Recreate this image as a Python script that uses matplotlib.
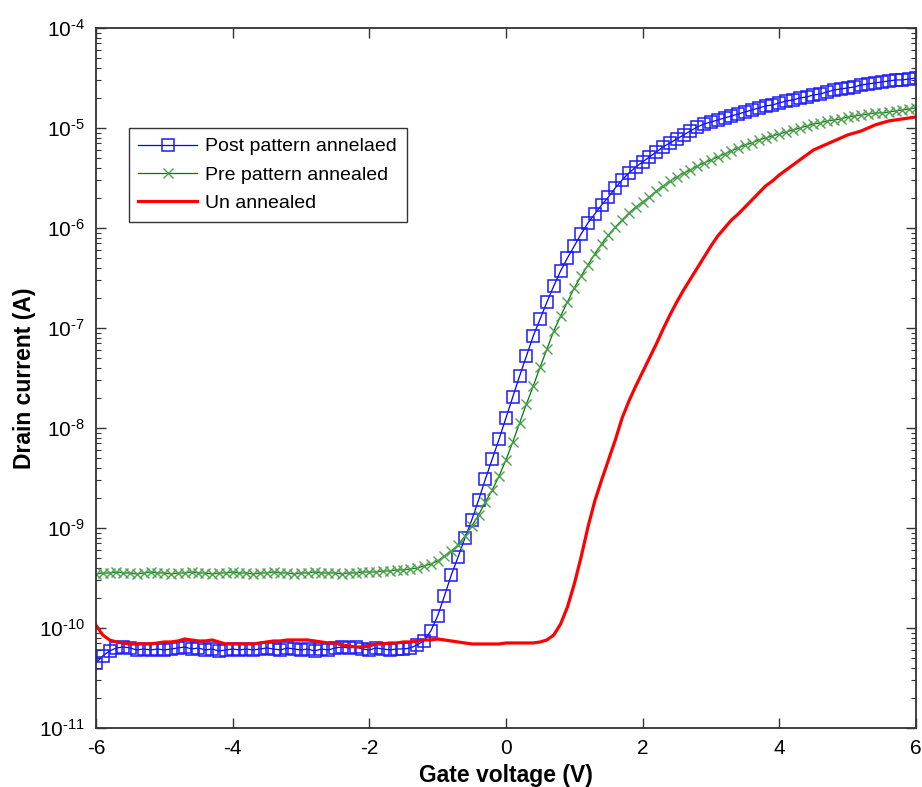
import numpy as np
import matplotlib
matplotlib.use("Agg")
import matplotlib.pyplot as plt
from matplotlib.ticker import LogLocator, FixedLocator, FuncFormatter

plt.rcParams['font.family'] = ['Liberation Sans', 'DejaVu Sans']
plt.rcParams['mathtext.fontset'] = 'custom'
plt.rcParams['mathtext.rm'] = 'Liberation Sans'
plt.rcParams['mathtext.it'] = 'Liberation Sans:italic'
plt.rcParams['mathtext.bf'] = 'Liberation Sans:bold'
plt.rcParams['axes.unicode_minus'] = False

# Gate voltage sweep: -6 V to 6 V in 0.1 V steps (121 points)
gate_voltage = np.linspace(-6.0, 6.0, 121)

# log10 of drain current (A), one row per volt
post_pattern_log = [
    -10.35, -10.28, -10.23, -10.20, -10.19, -10.20, -10.22, -10.21, -10.22, -10.21,
    -10.22, -10.21, -10.20, -10.19, -10.21, -10.20, -10.22, -10.21, -10.23, -10.22,
    -10.21, -10.22, -10.21, -10.22, -10.21, -10.20, -10.21, -10.22, -10.20, -10.21,
    -10.22, -10.21, -10.23, -10.21, -10.22, -10.20, -10.19, -10.20, -10.19, -10.21,
    -10.22, -10.20, -10.21, -10.22, -10.21, -10.21, -10.20, -10.17, -10.13, -10.03,
    -9.88, -9.68, -9.47, -9.29, -9.10, -8.92, -8.72, -8.51, -8.31, -8.11,
    -7.90, -7.69, -7.48, -7.28, -7.08, -6.91, -6.74, -6.58, -6.43, -6.30,
    -6.18, -6.06, -5.95, -5.86, -5.77, -5.69, -5.60, -5.52, -5.45, -5.39,
    -5.34, -5.29, -5.24, -5.19, -5.15, -5.11, -5.07, -5.03, -4.99, -4.96,
    -4.94, -4.92, -4.90, -4.88, -4.86, -4.84, -4.82, -4.80, -4.78, -4.77,
    -4.75, -4.73, -4.72, -4.70, -4.69, -4.67, -4.66, -4.64, -4.62, -4.61,
    -4.60, -4.59, -4.57, -4.56, -4.55, -4.54, -4.53, -4.52, -4.52, -4.51,
    -4.50,
]

pre_pattern_log = [
    -9.46, -9.45, -9.45, -9.44, -9.45, -9.45, -9.46, -9.45, -9.44, -9.45,
    -9.45, -9.46, -9.45, -9.45, -9.44, -9.45, -9.45, -9.46, -9.45, -9.45,
    -9.44, -9.45, -9.45, -9.46, -9.45, -9.45, -9.44, -9.45, -9.45, -9.46,
    -9.45, -9.45, -9.44, -9.45, -9.45, -9.45, -9.46, -9.45, -9.45, -9.44,
    -9.44, -9.44, -9.43, -9.43, -9.42, -9.42, -9.41, -9.40, -9.38, -9.36,
    -9.33, -9.28, -9.23, -9.17, -9.08, -8.98, -8.87, -8.74, -8.62, -8.48,
    -8.32, -8.14, -7.95, -7.76, -7.58, -7.39, -7.21, -7.03, -6.88, -6.74,
    -6.60, -6.48, -6.37, -6.26, -6.16, -6.07, -5.99, -5.92, -5.85, -5.79,
    -5.74, -5.69, -5.63, -5.58, -5.53, -5.49, -5.45, -5.42, -5.38, -5.35,
    -5.32, -5.29, -5.26, -5.23, -5.20, -5.17, -5.15, -5.12, -5.10, -5.08,
    -5.06, -5.04, -5.02, -5.00, -4.98, -4.96, -4.95, -4.93, -4.92, -4.91,
    -4.89, -4.88, -4.87, -4.86, -4.85, -4.85, -4.84, -4.83, -4.82, -4.81,
    -4.80,
]

unannealed_log = [
    -9.97, -10.07, -10.12, -10.14, -10.15, -10.16, -10.16, -10.16, -10.16, -10.15,
    -10.14, -10.14, -10.13, -10.11, -10.12, -10.13, -10.13, -10.12, -10.14, -10.16,
    -10.16, -10.16, -10.16, -10.16, -10.15, -10.14, -10.13, -10.13, -10.12, -10.12,
    -10.12, -10.12, -10.13, -10.14, -10.15, -10.15, -10.17, -10.18, -10.19, -10.19,
    -10.18, -10.16, -10.16, -10.15, -10.15, -10.14, -10.14, -10.13, -10.12, -10.12,
    -10.11, -10.12, -10.13, -10.14, -10.15, -10.16, -10.16, -10.16, -10.16, -10.16,
    -10.15, -10.15, -10.15, -10.15, -10.15, -10.14, -10.12, -10.07, -9.96, -9.79,
    -9.56, -9.29, -8.99, -8.73, -8.52, -8.32, -8.12, -7.90, -7.73, -7.58,
    -7.44, -7.30, -7.16, -7.01, -6.87, -6.74, -6.62, -6.51, -6.40, -6.29,
    -6.18, -6.08, -6.00, -5.92, -5.86, -5.79, -5.72, -5.65, -5.58, -5.53,
    -5.47, -5.42, -5.37, -5.32, -5.27, -5.22, -5.19, -5.16, -5.13, -5.10,
    -5.07, -5.05, -5.03, -5.00, -4.97, -4.95, -4.93, -4.92, -4.91, -4.90,
    -4.89,
]

series_labels = ["Post pattern annelaed", "Pre pattern annealed", "Un annealed"]
x_ticks = [-6, -4, -2, 0, 2, 4, 6]

post_pattern = 10.0 ** np.array(post_pattern_log)
pre_pattern = 10.0 ** np.array(pre_pattern_log)
unannealed = 10.0 ** np.array(unannealed_log)

fig = plt.figure(figsize=(9.22, 7.87), dpi=100)
ax = fig.add_axes([0.104, 0.075, 0.8895, 0.8895])

ax.plot(gate_voltage, post_pattern, color='#0000ff', lw=0.9, marker='s',
        markersize=8, markerfacecolor='none', markeredgecolor='#1a1aff',
        markeredgewidth=1.1, label=series_labels[0])
ax.plot(gate_voltage, pre_pattern, color='#007a00', lw=0.9, marker='x',
        markersize=7, markeredgecolor='#4fa04f', markeredgewidth=1.0,
        label=series_labels[1])
ax.plot(gate_voltage, unannealed, color='#ff0000', lw=2.3,
        label=series_labels[2])

ax.set_yscale('log')
ax.set_xlim(-6, 6)
ax.set_ylim(1e-11, 1e-4)
ax.xaxis.set_major_locator(FixedLocator(x_ticks))
ax.yaxis.set_major_locator(LogLocator(base=10, numticks=20))
ax.yaxis.set_minor_locator(LogLocator(base=10, subs=np.arange(2, 10), numticks=20))


def pow10_label(v, pos):
    e = int(round(np.log10(v)))
    return r'$10^{\text{%d}}$' % e


ax.yaxis.set_major_formatter(FuncFormatter(pow10_label))

ax.tick_params(which='both', direction='in', top=True, right=True,
               colors='#333333', labelcolor='black')
ax.tick_params(which='major', length=7, width=1.0, labelsize=15, pad=8)
ax.tick_params(which='minor', length=3.5, width=0.8)
for s in ax.spines.values():
    s.set_linewidth(1.3)
    s.set_color('#333333')

ax.set_xlabel('Gate voltage (V)', fontsize=16.5, fontweight='bold', labelpad=4)
ax.set_ylabel('Drain current (A)', fontsize=16.5, fontweight='bold', labelpad=2)

leg = ax.legend(loc='upper left', bbox_to_anchor=(0.04, 0.857), fontsize=14,
                frameon=True, fancybox=False, edgecolor='black',
                handlelength=3.0, borderpad=0.5, labelspacing=0.55,
                handletextpad=0.45, borderaxespad=0.0)
leg.get_frame().set_linewidth(1.0)

fig.savefig('out.png', dpi=100)
